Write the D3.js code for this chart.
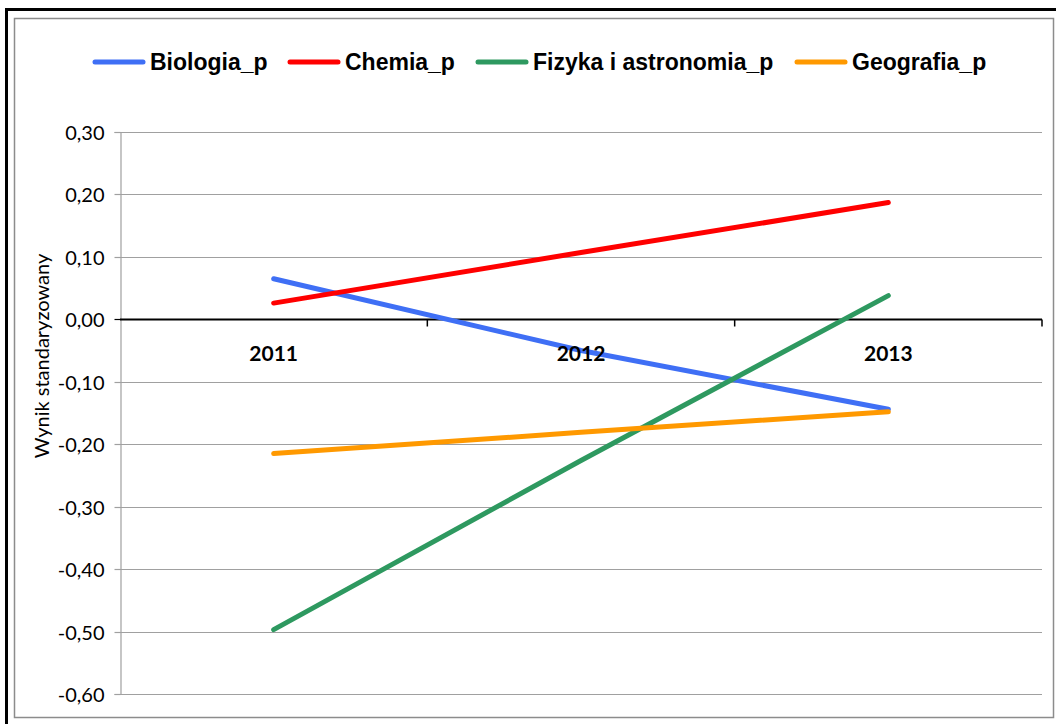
<!DOCTYPE html>
<html><head><meta charset="utf-8">
<script src="https://cdn.jsdelivr.net/npm/d3@7"></script>
<style>body{margin:0;background:#fff}svg{display:block}</style>
</head><body>
<svg id="c" width="1056" height="724"></svg>
<script>
const categories = ["2011","2012","2013"];
const seriesNames = ["Biologia_p","Chemia_p","Fizyka i astronomia_p","Geografia_p"];
const biologia = [0.065,-0.05,-0.144];
const chemia = [0.026,0.107,0.187];
const fizyka = [-0.497,-0.226,0.038];
const geografia = [-0.215,-0.181,-0.148];
const colors = ["#3f6ff5","#ff0000","#2e9960","#ff9900"];
const yTicks = [0.3,0.2,0.1,0,-0.1,-0.2,-0.3,-0.4,-0.5,-0.6];
const seriesValues = [biologia,chemia,fizyka,geografia];

const svg = d3.select("#c");
svg.append("rect").attr("x",6.5).attr("y",9.5).attr("width",1100).attr("height",800)
  .attr("fill","none").attr("stroke","#000").attr("stroke-width",3);
svg.append("rect").attr("x",14.5).attr("y",18.5).attr("width",1039).attr("height",699)
  .attr("fill","#fff").attr("stroke","#8c8c8c").attr("stroke-width",1.5);

const L=120, R=1042, T=132, B=694;
const y = d3.scaleLinear().domain([-0.6,0.3]).range([B,T]);
const x = d3.scaleBand().domain(categories).range([L,R]);
const fmt = v => d3.format(".2f")(v).replace(".",",").replace("−","-");
const FONT = "Lato, 'Open Sans', sans-serif";

svg.append("g").selectAll("line").data(yTicks.filter(v=>v!==0)).join("line")
  .attr("x1",L).attr("x2",R).attr("y1",d=>Math.round(y(d))+0.5).attr("y2",d=>Math.round(y(d))+0.5)
  .attr("stroke","#a0a0a0").attr("stroke-width",1.2);

const ya = svg.append("g").attr("transform",`translate(${L+0.5},0)`)
  .call(d3.axisLeft(y).tickValues(yTicks).tickFormat(fmt).tickSize(6).tickPadding(10));
ya.select(".domain").attr("stroke","#a0a0a0").attr("stroke-width",1.2);
ya.selectAll(".tick line").attr("stroke",d=>d===0?"#000":"#a0a0a0").attr("stroke-width",1.2);
ya.selectAll(".tick text").attr("font-family",FONT).attr("font-size",20)
  .attr("fill","#000").attr("dy","0.35em");
ya.selectAll(".tick").attr("transform",d=>`translate(0,${Math.round(y(d))+0.5})`);

const y0 = Math.round(y(0))+0.5;
svg.append("line").attr("x1",L).attr("x2",R).attr("y1",y0).attr("y2",y0)
  .attr("stroke","#000").attr("stroke-width",2);
svg.append("g").selectAll("line").data(categories).join("line")
  .attr("x1",d=>x(d)+x.bandwidth()).attr("x2",d=>x(d)+x.bandwidth())
  .attr("y1",y0).attr("y2",y0+7).attr("stroke","#000").attr("stroke-width",1.5);

svg.append("text").attr("transform","translate(49,356) rotate(-90)").attr("text-anchor","middle")
  .attr("font-family",FONT).attr("font-size",20).attr("fill","#000")
  .text("Wynik standaryzowany");

const line = d3.line().x((d,i)=>x(categories[i])+x.bandwidth()/2).y(d=>y(d));
svg.append("g").selectAll("path").data(seriesValues).join("path")
  .attr("d",line).attr("fill","none").attr("stroke",(d,i)=>colors[i])
  .attr("stroke-width",5).attr("stroke-linecap","round").attr("stroke-linejoin","round");

// category labels drawn above the lines
const xa = svg.append("g").attr("transform",`translate(0,${y0})`)
  .call(d3.axisBottom(x).tickSize(0).tickPadding(27));
xa.select(".domain").remove();
xa.selectAll(".tick text").attr("font-family",FONT).attr("font-weight","bold")
  .attr("font-size",21).attr("fill","#000");

const legX = [95,290,478,797];
const lg = svg.append("g").selectAll("g").data(seriesNames).join("g")
  .attr("transform",(d,i)=>`translate(${legX[i]},62)`);
lg.append("line").attr("x1",0).attr("x2",48).attr("stroke",(d,i)=>colors[i])
  .attr("stroke-width",5).attr("stroke-linecap","round");
lg.append("text").attr("x",55).attr("y",8).attr("font-family","'Liberation Sans', Arial, sans-serif")
  .attr("font-weight","bold").attr("font-size",23).attr("fill","#000").text(d=>d);
</script>
</body></html>
